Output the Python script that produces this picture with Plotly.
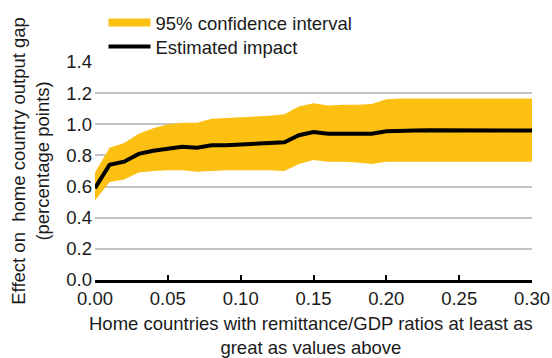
import plotly.graph_objects as go

# Remittance/GDP threshold (x) and estimated effect with 95% band
thresholds = [0.00, 0.01, 0.02, 0.03, 0.04, 0.05, 0.06, 0.07, 0.08, 0.09,
              0.10, 0.11, 0.12, 0.13, 0.14, 0.15, 0.16, 0.17, 0.18, 0.19,
              0.20, 0.21, 0.22, 0.23, 0.24, 0.25, 0.26, 0.27, 0.28, 0.29, 0.30]
estimate = [0.59, 0.74, 0.76, 0.81, 0.83, 0.845, 0.855, 0.85, 0.865, 0.865,
            0.87, 0.875, 0.875, 0.885, 0.93, 0.95, 0.94, 0.94, 0.94, 0.94,
            0.955, 0.96, 0.96, 0.962, 0.962, 0.962, 0.96, 0.96, 0.96, 0.96, 0.96]
upper = [0.69, 0.85, 0.88, 0.94, 0.975, 1.0, 1.01, 1.01, 1.035, 1.04,
         1.045, 1.05, 1.055, 1.065, 1.115, 1.135, 1.12, 1.125, 1.125, 1.13,
         1.16, 1.165, 1.165, 1.165, 1.165, 1.165, 1.165, 1.165, 1.165, 1.165, 1.165]
lower = [0.51, 0.63, 0.645, 0.69, 0.70, 0.705, 0.705, 0.695, 0.70, 0.705,
         0.705, 0.705, 0.705, 0.70, 0.745, 0.77, 0.76, 0.76, 0.755, 0.745,
         0.76, 0.76, 0.76, 0.76, 0.76, 0.76, 0.76, 0.76, 0.76, 0.76, 0.76]

x_ticks = [0.00, 0.05, 0.10, 0.15, 0.20, 0.25, 0.30]
y_ticks = [0.0, 0.2, 0.4, 0.6, 0.8, 1.0, 1.2, 1.4]

YELLOW = "#FCC012"
INK = "#1a1a1a"
FONT = "Liberation Sans, Arial, sans-serif"
FS = 18.5

fig = go.Figure()

# confidence band
fig.add_trace(go.Scatter(x=thresholds, y=lower, mode="lines",
                         line=dict(width=0, color=YELLOW),
                         showlegend=False, hoverinfo="skip"))
fig.add_trace(go.Scatter(x=thresholds, y=upper, mode="lines",
                         line=dict(width=0, color=YELLOW),
                         fill="tonexty", fillcolor=YELLOW,
                         showlegend=False, hoverinfo="skip"))
# legend entry for the band (thick swatch)
fig.add_trace(go.Scatter(x=[None], y=[None], mode="lines",
                         line=dict(width=8, color=YELLOW),
                         name="95% confidence interval", legend="legend"))
# point estimate
fig.add_trace(go.Scatter(x=thresholds, y=estimate, mode="lines",
                         line=dict(width=4, color="black"),
                         name="Estimated impact", legend="legend2"))

legend_common = dict(xref="container", yref="container",
                     xanchor="left", yanchor="middle",
                     itemwidth=42, font=dict(size=FS, color=INK),
                     bgcolor="rgba(0,0,0,0)")

fig.update_layout(
    width=552, height=358,
    margin=dict(l=95, r=20, t=62, b=78, autoexpand=False),
    paper_bgcolor="white", plot_bgcolor="white",
    font=dict(family=FONT, size=FS, color=INK),
    legend=dict(x=0.1875, y=1 - 23 / 358, **legend_common),
    legend2=dict(x=0.1875, y=1 - 47 / 358, **legend_common),
    xaxis=dict(range=[0, 0.30], tickvals=x_ticks, tickformat=".2f",
               showgrid=False, zeroline=False,
               showline=True, linecolor="black", linewidth=2.5,
               ticks="inside", ticklen=5, tickwidth=1.5, tickcolor="black",
               tickfont=dict(size=FS, color=INK)),
    yaxis=dict(range=[0, 1.4], tickvals=y_ticks, tickformat=".1f",
               showgrid=True, gridcolor="#C4C4C4", gridwidth=2,
               zeroline=False, showline=False, ticks="",
               ticklabelstandoff=2,
               tickfont=dict(size=FS, color=INK)),
    annotations=[
        dict(text="Effect on  home country output gap<br>(percentage points)",
             xref="paper", yref="paper", x=-0.147, y=0.546,
             xanchor="center", yanchor="middle", textangle=-90,
             showarrow=False, font=dict(size=FS, color=INK)),
        dict(text="Home countries with remittance/GDP ratios at least as<br>great as values above",
             xref="paper", yref="paper", x=0.495, y=-0.141,
             xanchor="center", yanchor="top",
             showarrow=False, font=dict(size=FS, color=INK)),
    ],
)

fig.write_html("out.html")
